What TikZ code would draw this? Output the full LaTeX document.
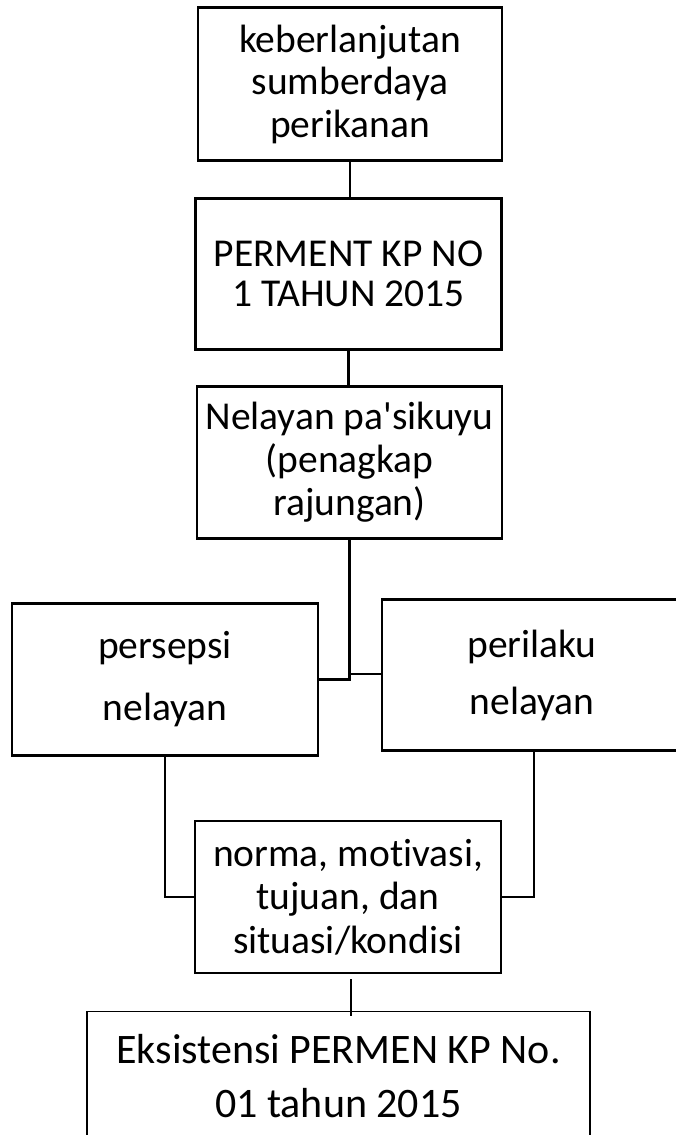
\documentclass[tikz,border=0pt]{standalone}
\usepackage{fontspec}
\setmainfont[Ligatures={TeXOff,NoCommon}]{Carlito}
\begin{document}
\begin{tikzpicture}[x=1pt,y=-1pt,
  boxstyle/.style={draw=black,line width=2.6pt,rectangle,inner sep=0pt,align=center,
    font=\fontsize{39.5}{42.5}\selectfont},
  thinbox/.style={draw=black,line width=1.2pt,rectangle,inner sep=0pt,align=center,
    font=\fontsize{42}{54}\selectfont},
  conn/.style={line width=2.6pt,line cap=rect},
  thinconn/.style={line width=1.2pt}]
\useasboundingbox (0,0) rectangle (675,1135);
\node[boxstyle,minimum width=304pt,minimum height=153pt] (b1) at (350,84)
  {keberlanjutan\\sumberdaya\\perikanan};
\node[boxstyle,minimum width=306pt,minimum height=151pt,font=\fontsize{39.5}{39.5}\selectfont] (b2) at (348.5,274)
  {PERMENT KP NO\\1 TAHUN 2015};
\node[boxstyle,minimum width=305pt,minimum height=152pt,font=\fontsize{39.5}{43}\selectfont] (b3) at (349.5,462.5)
  {Nelayan pa'sikuyu\\(penagkap\\rajungan)};
\node[boxstyle,minimum width=306pt,minimum height=152pt,font=\fontsize{39.5}{62}\selectfont] (per) at (165,679.5)
  {persepsi\\nelayan};
\node[boxstyle,minimum width=300pt,minimum height=151pt,font=\fontsize{39.5}{57}\selectfont] (pri) at (532,675)
  {perilaku\\nelayan};
\node[boxstyle,minimum width=306pt,minimum height=152pt,font=\fontsize{39.5}{43.5}\selectfont] (nor) at (348,897)
  {norma, motivasi,\\tujuan, dan\\situasi/kondisi};
\node[thinbox,minimum width=503pt,minimum height=128.5pt] (eks) at (338.5,1075.75)
  {Eksistensi PERMEN KP No.\\01 tahun 2015};
\coordinate (j) at (350,674);
\draw[conn] (b1.south) -- (b1.south |- b2.north);
\draw[conn] (b2.south) -- (b2.south |- b3.north);
\draw[conn] (b3.south) -- (b3.south |- per.east) -- (per.east);
\draw[conn] (j) -- (j -| pri.west);
\draw[conn] (per.south) |- (nor.west);
\draw[conn] ([xshift=2pt]pri.south) |- (nor.east);
\draw[thinconn] ([shift={(3pt,-5pt)}]nor.south) -- ([shift={(3pt,-5pt)}]nor.south |- eks.north);
\end{tikzpicture}
\end{document}
